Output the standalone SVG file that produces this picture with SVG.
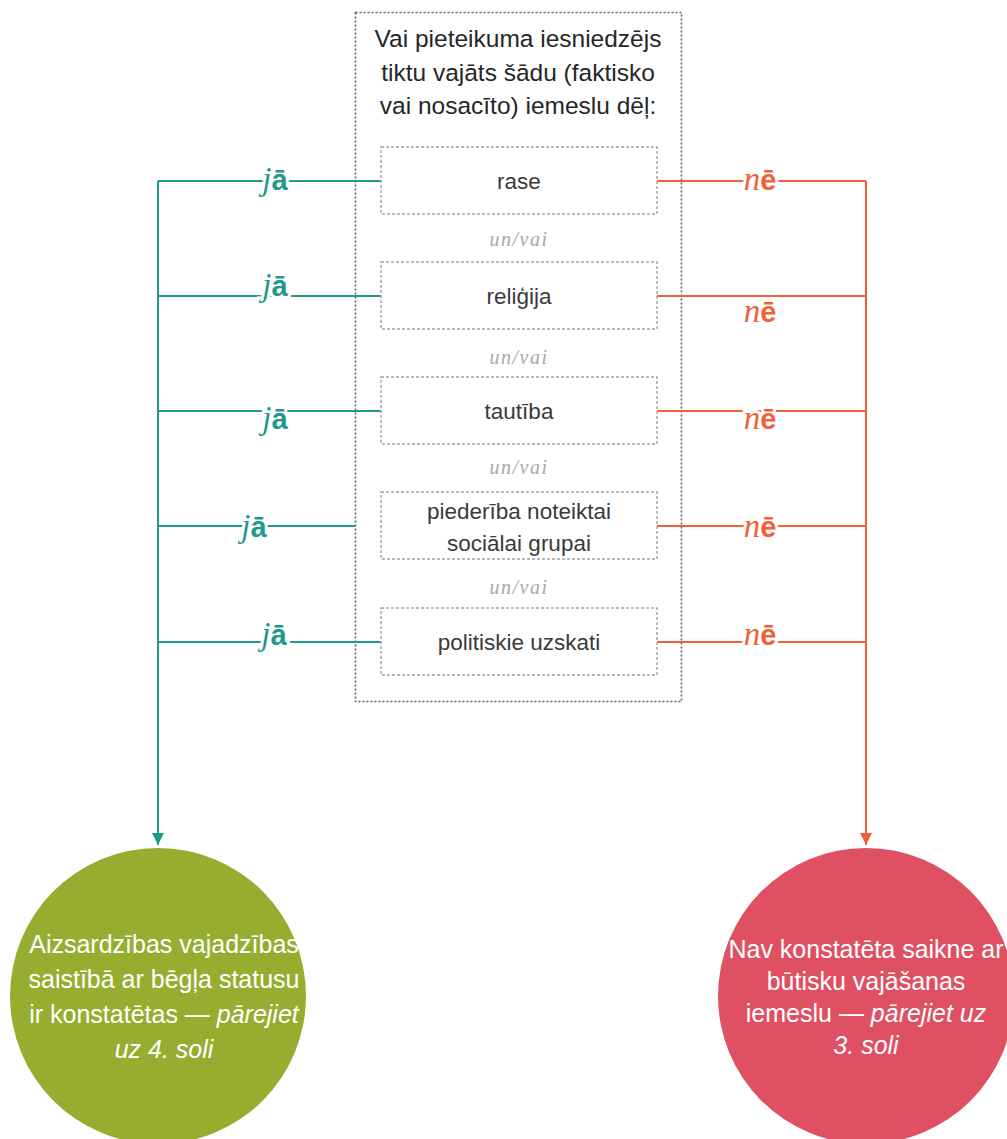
<svg xmlns="http://www.w3.org/2000/svg" width="1007" height="1139" viewBox="0 0 1007 1139">
<defs>
<style>
.outer{fill:none;stroke:#5e5e7a;stroke-width:1.6;stroke-dasharray:2 2}
.box{fill:#fff;stroke:#a3a3a3;stroke-width:1.4;stroke-dasharray:3 2}
.t{font-family:"Liberation Sans",Arial,sans-serif;fill:#3a3a3a;text-anchor:middle}
.title{font-size:24.5px;fill:#262626}
.node{font-size:22.5px}
.or{font-family:"Liberation Serif",serif;font-style:italic;font-size:20px;letter-spacing:1.5px;fill:#a8a8a8;text-anchor:middle}
.g{stroke:#1f9a8a;stroke-width:2;fill:none}
.o{stroke:#f0613a;stroke-width:2;fill:none}
.lab{font-size:29px;text-anchor:middle;paint-order:stroke;stroke:#fff;stroke-width:6px}
.lg{fill:#1f9a8a}
.lo{fill:#f0613a}
.s{font-family:"Liberation Serif",serif;font-style:italic;font-weight:normal;font-size:33px}
.b{font-family:"Liberation Sans",Arial,sans-serif;font-weight:bold}
.ct{font-family:"Liberation Sans",Arial,sans-serif;font-size:25px;fill:#fff;text-anchor:middle}
</style>
<marker id="ag" viewBox="0 0 10 10" refX="10" refY="5" markerWidth="6" markerHeight="6" markerUnits="strokeWidth" orient="auto"><path d="M0,0L10,5L0,10z" fill="#1f9a8a"/></marker>
<marker id="ao" viewBox="0 0 10 10" refX="10" refY="5" markerWidth="6" markerHeight="6" markerUnits="strokeWidth" orient="auto"><path d="M0,0L10,5L0,10z" fill="#f0613a"/></marker>
</defs>
<rect width="1007" height="1139" fill="#fff"/>

<g id="question">
<rect class="outer" x="355.5" y="12.5" width="326" height="689"/>
<text class="t title" x="518" y="47">Vai pieteikuma iesniedzējs</text>
<text class="t title" x="518" y="81">tiktu vajāts šādu (faktisko</text>
<text class="t title" x="518" y="114">vai nosacīto) iemeslu dēļ:</text>
</g>

<g id="connectors">
<path class="g" d="M158,181V845" marker-end="url(#ag)"/>
<path class="g" d="M158,181H381M158,296H381M158,411H381M158,526H355M158,642H381"/>
<path class="o" d="M866,181V845" marker-end="url(#ao)"/>
<path class="o" d="M657,181H866M657,296H866M657,411H866M657,526H866M657,642H866"/>
</g>

<g id="labels">
<text class="lab lg" x="275" y="190"><tspan class="s">j</tspan><tspan class="b">ā</tspan></text>
<text class="lab lg" x="275" y="296"><tspan class="s">j</tspan><tspan class="b">ā</tspan></text>
<text class="lab lg" x="275" y="429"><tspan class="s">j</tspan><tspan class="b">ā</tspan></text>
<text class="lab lg" x="254" y="537"><tspan class="s">j</tspan><tspan class="b">ā</tspan></text>
<text class="lab lg" x="274" y="645"><tspan class="s">j</tspan><tspan class="b">ā</tspan></text>
<text class="lab lo" x="760" y="190"><tspan class="s">n</tspan><tspan class="b">ē</tspan></text>
<text class="lab lo" x="760" y="322"><tspan class="s">n</tspan><tspan class="b">ē</tspan></text>
<text class="lab lo" x="760" y="429"><tspan class="s">n</tspan><tspan class="b">ē</tspan></text>
<text class="lab lo" x="760" y="537"><tspan class="s">n</tspan><tspan class="b">ē</tspan></text>
<text class="lab lo" x="760" y="645"><tspan class="s">n</tspan><tspan class="b">ē</tspan></text>
</g>

<g id="n-rase"><rect class="box" x="381" y="147" width="276" height="67"/><text class="t node" x="519" y="189">rase</text></g>
<text class="or" x="519" y="246">un/vai</text>
<g id="n-religija"><rect class="box" x="381" y="262" width="276" height="67"/><text class="t node" x="519" y="304">reliģija</text></g>
<text class="or" x="519" y="364">un/vai</text>
<g id="n-tautiba"><rect class="box" x="381" y="377" width="276" height="67"/><text class="t node" x="519" y="419">tautība</text></g>
<text class="or" x="519" y="474">un/vai</text>
<g id="n-piederiba"><rect class="box" x="381" y="492" width="276" height="67"/><text class="t node" x="519" y="519">piederība noteiktai</text><text class="t node" x="519" y="551">sociālai grupai</text></g>
<text class="or" x="519" y="594">un/vai</text>
<g id="n-politiskie"><rect class="box" x="381" y="608" width="276" height="67"/><text class="t node" x="519" y="650">politiskie uzskati</text></g>

<g id="n-yes">
<circle cx="158" cy="996" r="148" fill="#97ad2f"/>
<text class="ct" x="164" y="953" font-size="25.5">Aizsardzības vajadzības</text>
<text class="ct" x="164" y="988" font-size="25.5">saistībā ar bēgļa statusu</text>
<text class="ct" x="164" y="1023" font-size="25.5">ir konstatētas — <tspan font-style="italic">pārejiet</tspan></text>
<text class="ct" x="164" y="1058" font-size="25.5" font-style="italic">uz 4. soli</text>
</g>
<g id="n-no">
<circle cx="866" cy="996" r="148" fill="#e05063"/>
<text class="ct" x="866" y="958" font-size="24.5">Nav konstatēta saikne ar</text>
<text class="ct" x="866" y="990" font-size="24.5">būtisku vajāšanas</text>
<text class="ct" x="866" y="1022" font-size="24.5">iemeslu — <tspan font-style="italic">pārejiet uz</tspan></text>
<text class="ct" x="866" y="1054" font-size="24.5" font-style="italic">3. soli</text>
</g>
</svg>
